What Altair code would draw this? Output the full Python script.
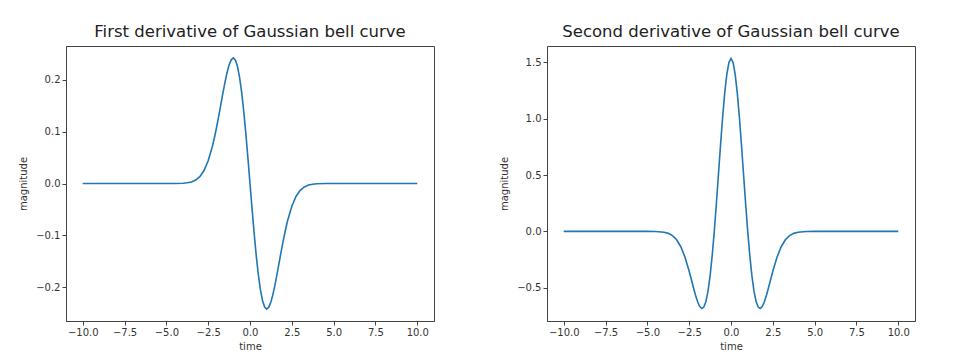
import altair as alt
import pandas as pd

time = [-10, -9, -8, -7, -6, -5, -4.5, -4, -3.75, -3.5, -3.25, -3, -2.75, -2.5, -2.25,
        -2.125, -2, -1.875, -1.75, -1.625, -1.5, -1.375, -1.25, -1.125, -1, -0.875, -0.75,
        -0.625, -0.5, -0.375, -0.25, -0.125, 0,
        0.125, 0.25, 0.375, 0.5, 0.625, 0.75, 0.875, 1, 1.125, 1.25, 1.375, 1.5, 1.625,
        1.75, 1.875, 2, 2.125, 2.25, 2.5, 2.75, 3, 3.25, 3.5, 3.75, 4, 4.5, 5, 6, 7, 8, 9, 10]

first = [0, 0, 0, 0, 0, 0, 0.00007, 0.00053, 0.00132, 0.00305, 0.00659, 0.01330, 0.02500,
         0.04382, 0.07141,
         0.08865, 0.10798, 0.12896, 0.15097, 0.17311, 0.19426, 0.21313, 0.22829, 0.23834,
         0.24195, 0.23802, 0.22583, 0.20508, 0.17602, 0.13943, 0.09666, 0.04947, 0,
         -0.04947, -0.09666, -0.13943, -0.17602, -0.20508, -0.22583, -0.23802, -0.24195,
         -0.23834, -0.22829, -0.21313, -0.19426, -0.17311, -0.15097, -0.12896, -0.10798,
         -0.08865, -0.07141, -0.04382, -0.02500, -0.01330, -0.00659, -0.00305, -0.00132,
         -0.00053, -0.00007, 0, 0, 0, 0, 0, 0]

second = [0, 0, 0, 0, 0, 0, -0.00118, -0.00771, -0.01772, -0.03777, -0.07465, -0.13643,
          -0.22957, -0.35410, -0.49613,
          -0.56436, -0.62324, -0.66579, -0.68470, -0.67253, -0.62292, -0.53122, -0.39531,
          -0.21655, 0, 0.24534, 0.50692, 0.76943, 1.01598, 1.22957, 1.39478, 1.49927, 1.535,
          1.49927, 1.39478, 1.22957, 1.01598, 0.76943, 0.50692, 0.24534, 0, -0.21655,
          -0.39531, -0.53122, -0.62292, -0.67253, -0.68470, -0.66579, -0.62324, -0.56436,
          -0.49613, -0.35410, -0.22957, -0.13643, -0.07465, -0.03777, -0.01772, -0.00771,
          -0.00118, 0, 0, 0, 0, 0, 0]

x_ticks = [-10, -7.5, -5, -2.5, 0, 2.5, 5, 7.5, 10]
y1_ticks = [-0.2, -0.1, 0.0, 0.1, 0.2]
y2_ticks = [-0.5, 0.0, 0.5, 1.0, 1.5]

df = pd.DataFrame({"time": time, "first": first, "second": second})


def panel(field, title, ydom, yticks):
    return alt.Chart(df).mark_line(color="#1f77b4", strokeWidth=1.6, clip=True).encode(
        x=alt.X("time:Q",
                scale=alt.Scale(domain=[-11, 11], nice=False, zero=False),
                axis=alt.Axis(values=x_ticks, format=".1f", title="time")),
        y=alt.Y(f"{field}:Q",
                scale=alt.Scale(domain=ydom, nice=False, zero=False),
                axis=alt.Axis(values=yticks, format=".1f", title="magnitude", titlePadding=7)),
    ).properties(width=368, height=275, title=title)


p1 = panel("first", "First derivative of Gaussian bell curve", [-0.265, 0.265], y1_ticks)
p2 = panel("second", "Second derivative of Gaussian bell curve", [-0.796, 1.646], y2_ticks)

chart = alt.hconcat(p1, p2, spacing=64).properties(
    padding={"left": 10, "top": 15, "right": 5, "bottom": 5}
).configure_view(
    stroke="#444", strokeWidth=1
).configure_axis(
    grid=False, domainColor="#444", tickColor="#444", tickSize=4,
    labelFont="DejaVu Sans", labelFontSize=10, labelColor="#333", labelPadding=2,
    titleFont="DejaVu Sans", titleFontSize=10, titleFontWeight="normal", titleColor="#333",
    titlePadding=4
).configure_title(
    font="DejaVu Sans", fontSize=16.5, fontWeight="normal", color="#222", offset=6
)

chart.save("out.html", embed_options={"renderer": "svg", "actions": False})
